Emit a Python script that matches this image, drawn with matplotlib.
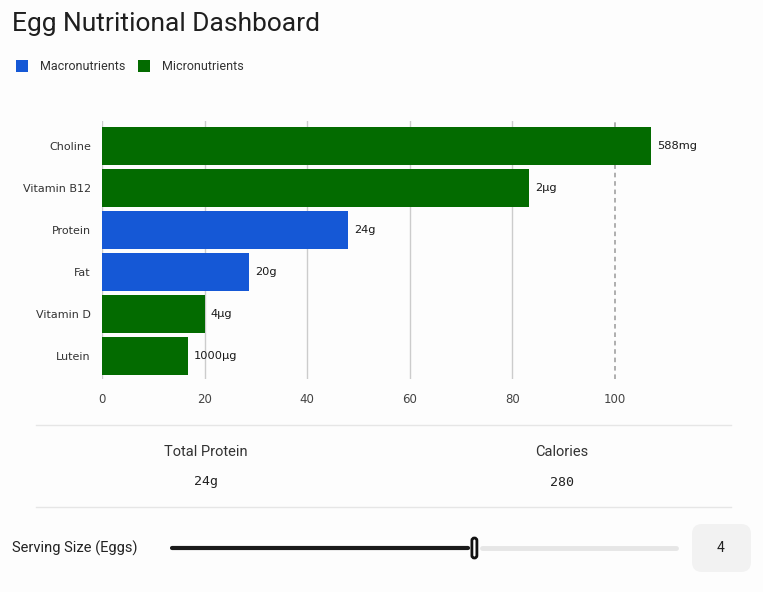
import matplotlib.pyplot as plt
from matplotlib.patches import Rectangle, FancyBboxPatch

# Data - percent of daily value per nutrient for the selected serving
nutrients = ['Choline', 'Vitamin B12', 'Protein', 'Fat', 'Vitamin D', 'Lutein']
percent_dv = [107, 83.3, 48, 28.6, 20, 16.7]
amount_labels = ['588mg', '2µg', '24g', '20g', '4µg', '1000µg']
groups = ['Micro', 'Micro', 'Macro', 'Macro', 'Micro', 'Micro']

total_protein = '24g'
calories = '280'
servings = 4
serving_min, serving_max = 1, 6

blue = '#1558D6'
green = '#036B00'
colors = {'Macro': blue, 'Micro': green}

W, H = 763, 592
fig = plt.figure(figsize=(W / 100, H / 100), dpi=100)
fig.patch.set_facecolor('#fdfdfd')


def px_axes(x0, y0, x1, y1, **kw):
    # pixel box (top-left origin) -> figure axes
    return fig.add_axes([x0 / W, 1 - y1 / H, (x1 - x0) / W, (y1 - y0) / H], **kw)


# overlay in pixel coordinates for the dashboard furniture
ov = px_axes(0, 0, W, H)
ov.set_xlim(0, W)
ov.set_ylim(H, 0)
ov.axis('off')
ov.set_zorder(0)

sans = ['Roboto', 'DejaVu Sans']
ov.text(12, 24, 'Egg Nutritional Dashboard', fontsize=19, family=sans,
        color='#1f1f1f', va='center', ha='left')

# legend
ov.add_patch(Rectangle((16, 60), 12, 12, color=blue, lw=0))
ov.text(40, 66, 'Macronutrients', fontsize=9, family=sans, color='#333333', va='center')
ov.add_patch(Rectangle((138, 60), 12, 12, color=green, lw=0))
ov.text(162, 66, 'Micronutrients', fontsize=9, family=sans, color='#333333', va='center')

# bar chart
xmax = 120
ax = px_axes(102, 121, 102 + 5.13 * xmax, 379)
ax.set_facecolor('none')
y = list(range(len(nutrients)))
ax.barh(y, percent_dv, height=0.9, color=[colors[g] for g in groups], zorder=3)
for yi, v, lab in zip(y, percent_dv, amount_labels):
    ax.annotate(lab, (v, yi), xytext=(4.5, 0), textcoords='offset points',
                va='center', ha='left', fontsize=8.2, color='#1a1a1a')
ax.set_xlim(0, xmax)
ax.set_ylim(5.55, -0.6)
ax.set_yticks(y)
ax.set_yticklabels(nutrients, fontsize=8, color='#333333')
ax.set_xticks([0, 20, 40, 60, 80, 100])
ax.tick_params(axis='x', labelsize=8.5, colors='#444444', length=0, pad=10)
ax.tick_params(axis='y', length=0, pad=8)
for xv in [0, 20, 40, 60, 80]:
    ax.axvline(xv, color='#cccccc', lw=1, zorder=1)
ax.axvline(100, color='#999999', lw=1.1, ls=(0, (3, 2.5)), zorder=1)
for s in ax.spines.values():
    s.set_visible(False)

# summary stats
ov.plot([36, 731], [425, 425], color='#e6e6e6', lw=1)
ov.plot([36, 731], [507, 507], color='#e6e6e6', lw=1)
ov.text(206, 452, 'Total Protein', fontsize=10.5, family=sans, color='#333333',
        ha='center', va='center')
ov.text(562, 452, 'Calories', fontsize=10.5, family=sans, color='#333333',
        ha='center', va='center')
ov.text(206, 482, total_protein, fontsize=9.5, family='DejaVu Sans Mono', color='#222222',
        ha='center', va='center')
ov.text(562, 482, calories, fontsize=9.5, family='DejaVu Sans Mono', color='#222222',
        ha='center', va='center')

# serving size slider
ov.text(12, 548, 'Serving Size (Eggs)', fontsize=10.5, family=sans, color='#222222',
        va='center', ha='left')
track0, track1 = 172, 676
thumb_x = track0 + (servings - serving_min) / (serving_max - serving_min) * (track1 - track0)
ov.plot([track0, thumb_x - 6], [548, 548], color='#1a1a1a', lw=3, solid_capstyle='round')
ov.plot([thumb_x + 8, track1], [548, 548], color='#e6e6e6', lw=3.5, solid_capstyle='round')
ov.add_patch(FancyBboxPatch((thumb_x - 2.5, 538), 5, 20,
                            boxstyle='round,pad=0,rounding_size=2.5',
                            fc='white', ec='#111111', lw=2, zorder=5))
ov.add_patch(FancyBboxPatch((692, 524), 59, 48, boxstyle='round,pad=0,rounding_size=10',
                            fc='#f2f2f2', ec='none'))
ov.text(721, 548, str(servings), fontsize=10, family=sans, color='#222222',
        ha='center', va='center')

fig.savefig('out.png', dpi=100, facecolor=fig.get_facecolor())
